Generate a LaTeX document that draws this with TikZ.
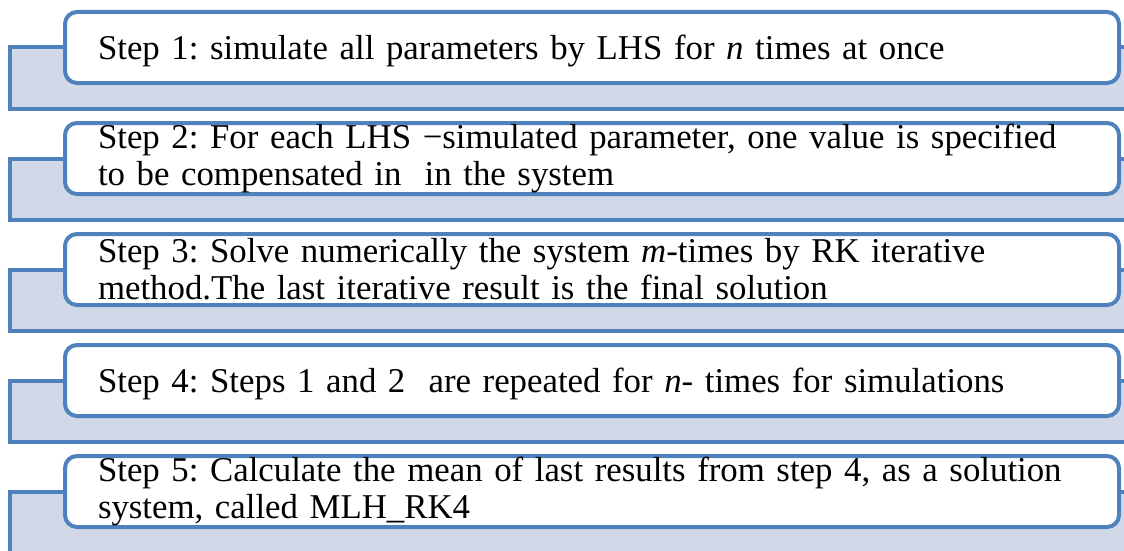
\documentclass[tikz,border=0pt]{standalone}
\usepackage{fontspec}
\setmainfont{Liberation Serif}
\usetikzlibrary{positioning, backgrounds}

\definecolor{stepblue}{RGB}{79,129,189}
\definecolor{stepfill}{RGB}{209,217,232}

\begin{document}
\begin{tikzpicture}[x=1pt, y=-1pt,
        node distance=36pt,
        box/.style={draw=stepblue, line width=4pt, rounded corners=12pt, fill=white, align=left,
            text width=988pt, minimum width=1054pt, minimum height=71pt, inner xsep=33pt, inner ysep=0pt,
            font=\fontsize{34.8}{37}\selectfont\frenchspacing},
        oneline/.style={text depth=0.6pt},
        bar/.style={draw=stepblue, fill=stepfill, line width=4pt, minimum width=1120pt, minimum height=61pt,
            anchor=north west, inner sep=0pt, outer sep=0pt}]
    \path[use as bounding box, clip] (0,0) rectangle (1124,551);
    \node[box, oneline, anchor=north west] (step1) at (63,10) {Step 1: simulate all parameters by LHS for \textit{n} times at once};
    \node[box, below=of step1] (step2) {Step 2: For each LHS −simulated parameter, one value is specified\\to be compensated in \ in the system};
    \node[box, below=of step2] (step3) {Step 3: Solve numerically the system \textit{m}-times by RK iterative\\method.The last iterative result is the final solution};
    \node[box, oneline, below=of step3] (step4) {Step 4: Steps 1 and 2 \ are repeated for \textit{n}- times for simulations};
    \node[box, below=of step4] (step5) {Step 5: Calculate the mean of last results from step 4, as a solution\\system, called MLH\_RK4};
    % bars behind the boxes
    \begin{scope}[on background layer]
        \node[bar] (bar1) at (10,0 |- step1.west) {};
        \node[bar] (bar2) at (10,0 |- step2.west) {};
        \node[bar] (bar3) at (10,0 |- step3.west) {};
        \node[bar] (bar4) at (10,0 |- step4.west) {};
        \node[bar] (bar5) at (10,0 |- step5.west) {};
    \end{scope}
\end{tikzpicture}
\end{document}
